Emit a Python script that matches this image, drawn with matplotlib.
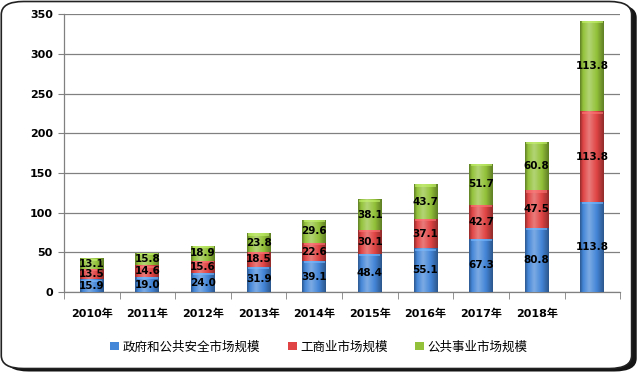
import numpy as np
import matplotlib
matplotlib.use("Agg")
import matplotlib.pyplot as plt
from matplotlib.patches import FancyBboxPatch
from matplotlib.colors import LinearSegmentedColormap, to_rgb

plt.rcParams['font.family'] = ['DejaVu Sans', 'Noto Sans CJK SC']

categories = ['2010年', '2011年', '2012年', '2013年', '2014年', '2015年',
              '2016年', '2017年', '2018年', '']
gov = [15.9, 19.0, 24.0, 31.9, 39.1, 48.4, 55.1, 67.3, 80.8, 113.8]
ind = [13.5, 14.6, 15.6, 18.5, 22.6, 30.1, 37.1, 42.7, 47.5, 113.8]
pub = [13.1, 15.8, 18.9, 23.8, 29.6, 38.1, 43.7, 51.7, 60.8, 113.8]
series_names = ['政府和公共安全市场规模', '工商业市场规模', '公共事业市场规模']
colors = ['#4486d8', '#e04444', '#93c23a']
yticks = [0, 50, 100, 150, 200, 250, 300, 350]

fig = plt.figure(figsize=(6.38, 3.73), dpi=100)

# outer frame with shadow
shadow = FancyBboxPatch((0.010, 0.004), 0.988, 0.984, boxstyle="round,pad=0,rounding_size=0.035",
                        transform=fig.transFigure, facecolor='#151515', edgecolor='none', zorder=-2)
frame = FancyBboxPatch((0.002, 0.012), 0.988, 0.984, boxstyle="round,pad=0,rounding_size=0.035",
                       transform=fig.transFigure, facecolor='white', edgecolor='#222222',
                       linewidth=1.2, zorder=-1)
fig.patches.extend([shadow, frame])

ax = fig.add_axes([0.1003, 0.217, 0.8717, 0.745])
ax.set_zorder(2)
ax.set_facecolor('none')
x = np.arange(len(categories))
width = 0.43


def shade(base):
    base = np.array(to_rgb(base))
    dark = base * 0.65
    light = np.minimum(base + (1 - base) * 0.30, 1)
    return LinearSegmentedColormap.from_list('c', [(0, dark), (0.12, base), (0.38, light),
                                                   (0.7, base), (1, dark)])


bottom = np.zeros(len(categories))
handles = []
for vals, col, name in zip([gov, ind, pub], colors, series_names):
    vals = np.array(vals)
    bars = ax.bar(x, vals, width, bottom=bottom, color=col, label=name, zorder=3, linewidth=0)
    cmap = shade(col)
    grad = np.linspace(0, 1, 64).reshape(1, -1)
    for p in bars:
        x0, y0 = p.get_x(), p.get_y()
        w, h = p.get_width(), p.get_height()
        im = ax.imshow(grad, cmap=cmap, aspect='auto', extent=[x0, x0 + w, y0, y0 + h],
                       zorder=3.5, interpolation='bicubic')
        im.set_clip_path(p)
        capc = np.minimum(np.array(to_rgb(col)) + 0.2, 1)
        ax.fill_between([x0 + w * 0.06, x0 + w * 0.94], y0 + h - 3.0, y0 + h - 0.3, color=capc,
                        alpha=0.6, zorder=3.6, linewidth=0)
    for xi, b, v in zip(x, bottom, vals):
        ax.text(xi, b + v / 2, f'{v:.1f}', ha='center', va='center', fontsize=7.5,
                fontweight='bold', color='black', zorder=5)
    handles.append(bars)
    bottom = bottom + vals

ax.set_xlim(-0.5, len(categories) - 0.5)
ax.set_ylim(0, 350)
ax.set_yticks(yticks)
ax.set_yticklabels([str(t) for t in yticks], fontsize=8, fontweight='bold')
ax.set_xticks(x)
ax.set_xticklabels(categories, fontsize=8, fontweight='bold')
ax.set_xticks(np.arange(-0.5, len(categories), 1), minor=True)
ax.tick_params(axis='x', which='major', length=0, pad=12)
ax.tick_params(axis='x', which='minor', length=5, color='#808080', direction='out')
ax.tick_params(axis='y', length=4, color='#808080', pad=4)
ax.grid(axis='y', color='#808080', linewidth=0.9, zorder=1)
ax.set_axisbelow(True)
for s in ['top', 'right']:
    ax.spines[s].set_visible(False)
for s in ['left', 'bottom']:
    ax.spines[s].set_color('#808080')
    ax.spines[s].set_linewidth(0.9)

leg = fig.legend(handles, series_names, loc='center', bbox_to_anchor=(0.5, 0.07), ncol=3,
                 frameon=False, prop={'family': ['Noto Sans CJK SC', 'DejaVu Sans'], 'size': 9},
                 handlelength=0.7, handleheight=0.7, handletextpad=0.3, columnspacing=2.2)
leg.set_zorder(3)

fig.savefig('out.png', dpi=100)
